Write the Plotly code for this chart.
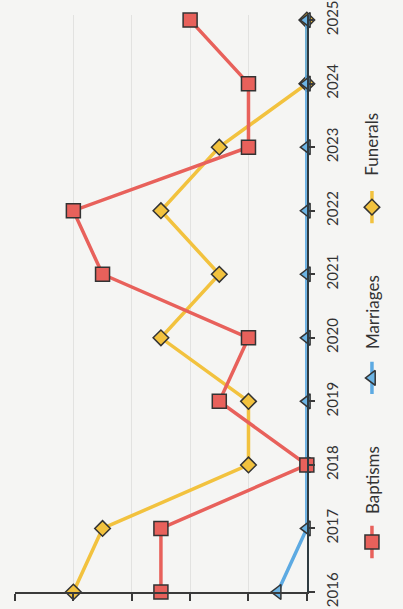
import plotly.graph_objects as go

years = [2016, 2017, 2018, 2019, 2020, 2021, 2022, 2023, 2024, 2025]
baptisms = [5, 5, 0, 3, 2, 7, 8, 2, 2, 4]
marriages = [1, 0, 0, 0, 0, 0, 0, 0, 0, 0]
funerals = [8, 7, 2, 2, 5, 3, 5, 3, 0, 0]
series_names = ["Baptisms", "Marriages", "Funerals"]

RED = "#E8615B"
BLUE = "#5DAAE2"
YEL = "#F2C23E"
OUT = "#333333"
BG = "#F5F5F3"
FONT = "Lato"

fig = go.Figure()

fig.add_trace(go.Scatter(
    x=funerals, y=years, mode="lines+markers", cliponaxis=False,
    line=dict(color=YEL, width=3.5),
    marker=dict(symbol="diamond", size=12, color=YEL, line=dict(color=OUT, width=1.5)),
    showlegend=False))
fig.add_trace(go.Scatter(
    x=marriages, y=years, mode="lines+markers", cliponaxis=False,
    line=dict(color=BLUE, width=3.5),
    marker=dict(symbol="triangle-left", size=13, color="#6BB3E3", line=dict(color=OUT, width=1.5)),
    showlegend=False))
fig.add_trace(go.Scatter(
    x=baptisms, y=years, mode="lines+markers", cliponaxis=False,
    line=dict(color=RED, width=3.5),
    marker=dict(symbol="square", size=14, color=RED, line=dict(color=OUT, width=1.5)),
    showlegend=False))

# legend symbols (rotated legend) on a helper axis pair
leg_y = [0.0867, 0.371, 0.667]
leg_txt_y = [0.194, 0.485, 0.777]
leg_cols = [RED, BLUE, YEL]
leg_fill = [RED, "#6BB3E3", YEL]
leg_sym = ["square", "triangle-left", "diamond"]
leg_size = [14, 13, 12]
half = 0.028
for i in range(3):
    fig.add_trace(go.Scatter(
        x=[0.5, 0.5], y=[leg_y[i] - half, leg_y[i] + half], mode="lines",
        line=dict(color=leg_cols[i], width=3.5), xaxis="x2", yaxis="y2",
        showlegend=False, hoverinfo="skip", cliponaxis=False))
    fig.add_trace(go.Scatter(
        x=[0.5], y=[leg_y[i]], mode="markers", xaxis="x2", yaxis="y2",
        marker=dict(symbol=leg_sym[i], size=leg_size[i], color=leg_fill[i], line=dict(color=OUT, width=1.5)),
        showlegend=False, hoverinfo="skip", cliponaxis=False))
    fig.add_annotation(
        x=0.932, y=leg_txt_y[i], xref="paper", yref="paper", text=series_names[i],
        textangle=-90, showarrow=False, xanchor="center", yanchor="middle",
        font=dict(family=FONT, size=17, color="#333333"))

fig.update_layout(
    width=403, height=609,
    margin=dict(l=15, r=5, t=15, b=17, autoexpand=False),
    paper_bgcolor=BG, plot_bgcolor=BG,
    font=dict(family=FONT, color="#333333"),
    xaxis=dict(
        domain=[0, 0.762], range=[10, 0], dtick=2, tick0=0,
        showgrid=True, gridcolor="#E2E2E0", gridwidth=1,
        showline=True, linecolor="#3A3A3A", linewidth=1.5,
        ticks="outside", ticklen=7, tickcolor="#3A3A3A", tickwidth=1.5,
        showticklabels=False, zeroline=False, fixedrange=True, automargin=False),
    yaxis=dict(
        range=[2016, 2025.08], side="right", tickvals=years,
        ticktext=[str(y) for y in years], tickangle=-90,
        ticklabeloverflow="allow", ticklabelstandoff=5,
        showgrid=False, showline=True, linecolor="#2E3A40", linewidth=2,
        ticks="outside", ticklen=6, tickcolor="#3A3A3A", tickwidth=1.5,
        tickfont=dict(family=FONT, size=15, color="#333333"),
        zeroline=False, fixedrange=True, automargin=False),
    xaxis2=dict(domain=[0.9, 0.964], range=[0, 1], visible=False, anchor="y2"),
    yaxis2=dict(domain=[0, 1], range=[0, 1], visible=False, anchor="x2"),
)

fig.write_html(
    "out.html",
    config={"displayModeBar": False},
    post_script="document.body.style.margin='0';document.body.style.background='%s';" % BG)
